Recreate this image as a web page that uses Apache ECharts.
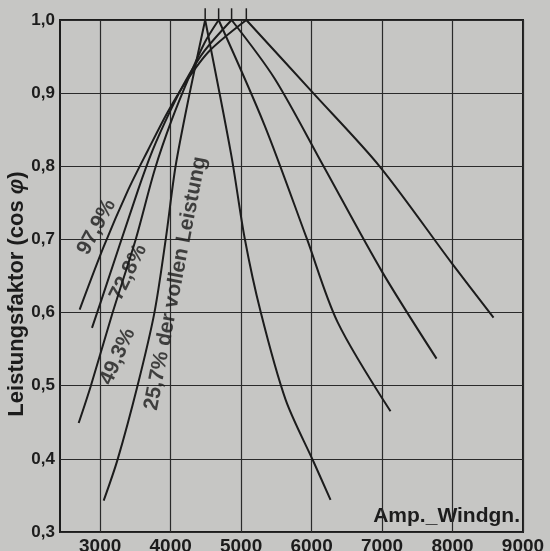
<!DOCTYPE html>
<html>
<head>
<meta charset="utf-8">
<script src="https://cdn.jsdelivr.net/npm/echarts@6/dist/echarts.min.js"></script>
<style>
html,body{margin:0;padding:0;background:#c6c6c4}
#chart{width:550px;height:551px}
</style>
</head>
<body>
<div id="chart"></div>
<script>
// Amperewindungen vs. Leistungsfaktor, je Belastung ein ansteigender und ein fallender Ast
const xTicks = [3000, 4000, 5000, 6000, 7000, 8000, 9000]
const loadNames = ["97,9%", "72,8%", "49,3%", "25,7% der vollen Leistung"]

const rise979 = [[2709,0.604],[3050,0.690],[3394,0.767],[3678,0.822],[3957,0.874],[4227,0.917],[4553,0.958],[5074,1.0]]
const fall979 = [[5074,1.0],[6014,0.901],[6965,0.80],[7986,0.668],[8582,0.593]]

const rise728 = [[2884,0.579],[3017,0.617],[3536,0.767],[3745,0.822],[3986,0.874],[4213,0.917],[4482,0.958],[4865,1.0]]
const fall728 = [[4865,1.0],[5475,0.920],[6170,0.80],[6993,0.657],[7773,0.537]]

const rise493 = [[2695,0.449],[2865,0.499],[3177,0.60],[3504,0.70],[3773,0.795],[4014,0.863],[4270,0.924],[4482,0.969],[4681,1.0]]
const fall493 = [[4681,1.0],[5333,0.856],[5929,0.702],[6369,0.587],[7120,0.465]]

const rise257 = [[3050,0.343],[3250,0.40],[3530,0.50],[3770,0.60],[3930,0.70],[4070,0.80],[4270,0.90],[4490,1.0]]
const fall257 = [[4490,1.0],[4861,0.815],[5050,0.702],[5277,0.601],[5631,0.481],[6028,0.396],[6269,0.344]]

// kleine Striche über den Scheitelpunkten
const peakX = [5074, 4865, 4681, 4490]
const peakTop = 1.016

// Beschriftungen an den Kurven
const labelAnchor = [[2950,0.717],[3400,0.655],[3250,0.540],[4070,0.640]]
const labelRot = [62, 64, 66, 79]

const branches = [rise979, fall979, rise728, fall728, rise493, fall493, rise257, fall257]

const font = "'Liberation Sans', Arial, sans-serif"
const ink = "#1c1c1c"

let series = branches.map(function (d) {
	return {
		type: "line",
		data: d,
		smooth: 0.3,
		symbol: "none",
		lineStyle: { color: ink, width: 2 },
		silent: true
	}
})

peakX.forEach(function (x) {
	series.push({
		type: "line",
		data: [[x, 1.0], [x, peakTop]],
		symbol: "none",
		clip: false,
		lineStyle: { color: ink, width: 1.5 },
		silent: true
	})
})

series.push({
	type: "scatter",
	symbolSize: 0,
	silent: true,
	data: labelAnchor.map(function (p, i) {
		return {
			value: p,
			name: loadNames[i],
			label: { rotate: labelRot[i] }
		}
	}),
	label: {
		show: true,
		position: "inside",
		formatter: function (p) { return p.name },
		color: ink,
		fontFamily: font,
		fontSize: 21,
		fontWeight: "bold"
	}
})

let chart = echarts.init(document.getElementById("chart"))
chart.setOption({
	backgroundColor: "#c6c6c4",
	animation: false,
	grid: {
		left: 60,
		right: 27,
		top: 20,
		bottom: 19,
		outerBoundsMode: "none",
		show: true,
		borderColor: ink,
		borderWidth: 2,
		backgroundColor: "transparent"
	},
	xAxis: {
		type: "value",
		min: 2430,
		max: 9000,
		axisLine: { show: false },
		axisTick: { show: false, customValues: xTicks },
		splitLine: { show: true, lineStyle: { color: "#2a2a2a", width: 1.2 } },
		axisLabel: {
			customValues: xTicks,
			margin: 5,
			color: ink,
			fontFamily: font,
			fontSize: 19,
			fontWeight: "bold",
			formatter: function (v) { return String(v) }
		}
	},
	yAxis: {
		type: "value",
		min: 0.3,
		max: 1.0,
		interval: 0.1,
		axisLine: { show: false },
		axisTick: { show: false },
		splitLine: { show: true, lineStyle: { color: "#2a2a2a", width: 1.2 } },
		axisLabel: {
			margin: 5,
			color: ink,
			fontFamily: font,
			fontSize: 17,
			fontWeight: "bold",
			formatter: function (v) { return v.toFixed(1).replace(".", ",") }
		},
		name: "Leistungsfaktor (cos {i|φ})",
		nameLocation: "middle",
		nameRotate: 90,
		nameGap: 32,
		nameMoveOverlap: false,
		nameTextStyle: {
			color: ink,
			fontFamily: font,
			fontSize: 22,
			fontWeight: "bold",
			padding: [0, 36, 0, 0],
			rich: { i: { fontStyle: "italic", fontSize: 22, fontWeight: "bold", fontFamily: font, color: ink } }
		}
	},
	graphic: [{
		type: "text",
		right: 30,
		bottom: 24,
		style: {
			text: "Amp._Windgn.",
			fill: ink,
			font: "bold 21px " + font
		}
	}],
	series: series
})
</script>
</body>
</html>
